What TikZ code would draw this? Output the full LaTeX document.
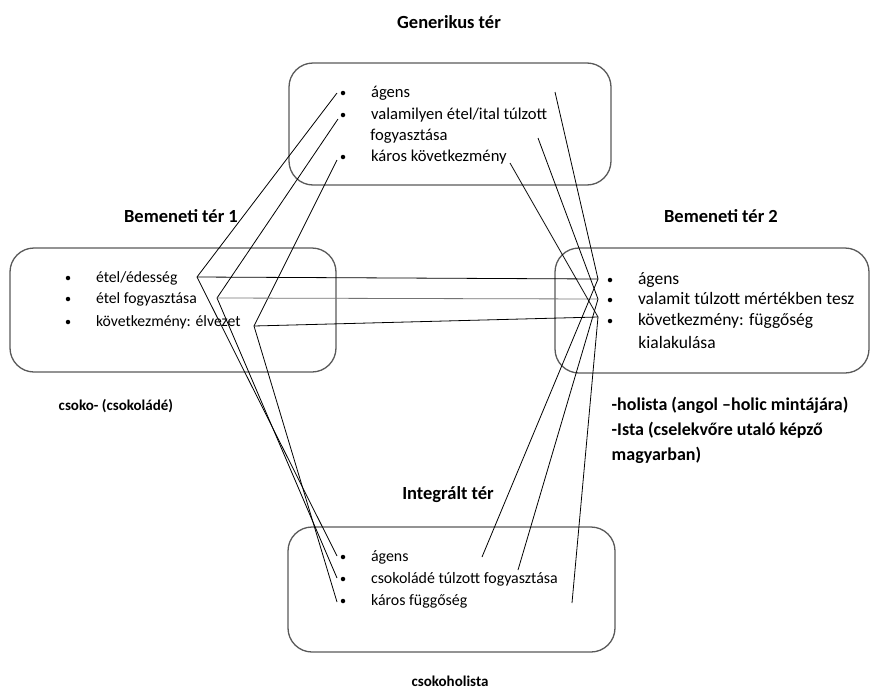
\documentclass[tikz,border=0pt]{standalone}
\usepackage{fontspec}
\setmainfont{Carlito}
\usetikzlibrary{positioning}
\def\gap{25pt}
\def\isz{15.7}
\tikzstyle{space}=[draw=black!65,line width=1.3pt,rounded corners=24pt]
\tikzstyle{title}=[font=\bfseries\fontsize{18.5}{22}\selectfont]
\tikzstyle{label}=[font=\bfseries\fontsize{15}{25}\selectfont,align=left,anchor=west]
\tikzstyle{item}=[inner sep=0pt,font=\fontsize{\isz}{20}\selectfont]
\tikzstyle{dot}=[circle,fill=black,inner sep=0pt,minimum size=4.5pt]
\newcommand{\newSpace}[4]{\node[space,minimum width=#3pt,minimum height=#4pt](#1) at (#2) {};}
\newcommand{\newItem}[3]{\node[dot](#1) at (#2) {};
  \node[item,right=\gap of #1,anchor=base west,yshift=-4.5pt](#1t) {#3};}
\newcommand{\newLink}[3]{\draw[#3] (#1) -- (#2);}

\begin{document}
\begin{tikzpicture}[x=1pt,y=-1pt,line width=0.8pt]
    \useasboundingbox (0,0) rectangle (871,691);
    % spaces
    \newSpace{gen}{450,124}{322}{122}
    \newSpace{in1}{173,310}{326}{124}
    \newSpace{in2}{712,310.5}{314}{125}
    \newSpace{int}{451.5,589.5}{327}{125}
    \node[title] (gent) at (449,22) {Generikus tér};
    \node[title] (in1t) at (181,216) {Bemeneti tér 1};
    \node[title] (in2t) at (721,216) {Bemeneti tér 2};
    \node[title] (intt) at (448,495) {Integrált tér};
    % items
    \def\isz{16.6}
    \newItem{ga}{343,93}{ágens}
    \newItem{gb}{343,115}{valamilyen étel/ital túlzott}
    \node[item,anchor=base west] (gbb) at (370,140.5) {fogyasztása};
    \newItem{gc}{343,157}{káros következmény}
    \def\isz{15.7}
    \newItem{ea}{68,278}{étel/édesség}
    \newItem{eb}{68,299}{étel fogyasztása}
    \newItem{ec}{68,322}{következmény: élvezet}
    \def\isz{17.5}
    \newItem{ba}{610,280}{ágens}
    \newItem{bb}{610,300}{valamit túlzott mértékben tesz}
    \newItem{bc}{610,321}{következmény: függőség}
    \node[item,anchor=base west] (bcc) at (638,348.5) {kialakulása};
    \def\isz{15.9}
    \newItem{ia}{343,557}{ágens}
    \newItem{ib}{343,579}{csokoládé túlzott fogyasztása}
    \newItem{ic}{343,601}{káros függőség}
    % labels
    \node[label] (lab1) at (55,406) {csoko- (csokoládé)};
    \node[label,font=\bfseries\fontsize{18}{25}\selectfont] (lab2) at (608,430)
      {-holista (angol --holic mintájára)\\ -Ista (cselekvőre utaló képző\\ magyarban)};
    \node[title,font=\bfseries\fontsize{15}{18}\selectfont] (res) at (450,681) {csokoholista};
    % end points
    \coordinate (g1) at (337,93);  \coordinate (g2) at (338,119); \coordinate (g3) at (337,160);
    \coordinate (h1) at (555,92);  \coordinate (h2) at (538,138); \coordinate (h3) at (510,163);
    \coordinate (e1) at (197,277); \coordinate (e2) at (217,298); \coordinate (e3) at (254,326);
    \coordinate (b1) at (598,279); \coordinate (b2) at (598,299); \coordinate (b3) at (598,317);
    \coordinate (i1) at (337,556); \coordinate (i2) at (337,578); \coordinate (i3) at (337,602);
    \coordinate (j1) at (482,557); \coordinate (j2) at (518,570); \coordinate (j3) at (572,603);
    % links
    \newLink{e1}{g1}{}
    \newLink{e2}{g2}{}
    \newLink{e3}{g3}{}
    \newLink{e1}{i1}{}
    \newLink{e2}{i2}{}
    \newLink{e3}{i3}{}
    \newLink{e1}{b1}{}
    \newLink{e2}{b2}{black!55}
    \newLink{e3}{b3}{}
    \newLink{h1}{b1}{}
    \newLink{h2}{b2}{}
    \newLink{h3}{b3}{}
    \newLink{b1}{j1}{}
    \newLink{b2}{j2}{}
    \newLink{b3}{j3}{}
\end{tikzpicture}
\end{document}
